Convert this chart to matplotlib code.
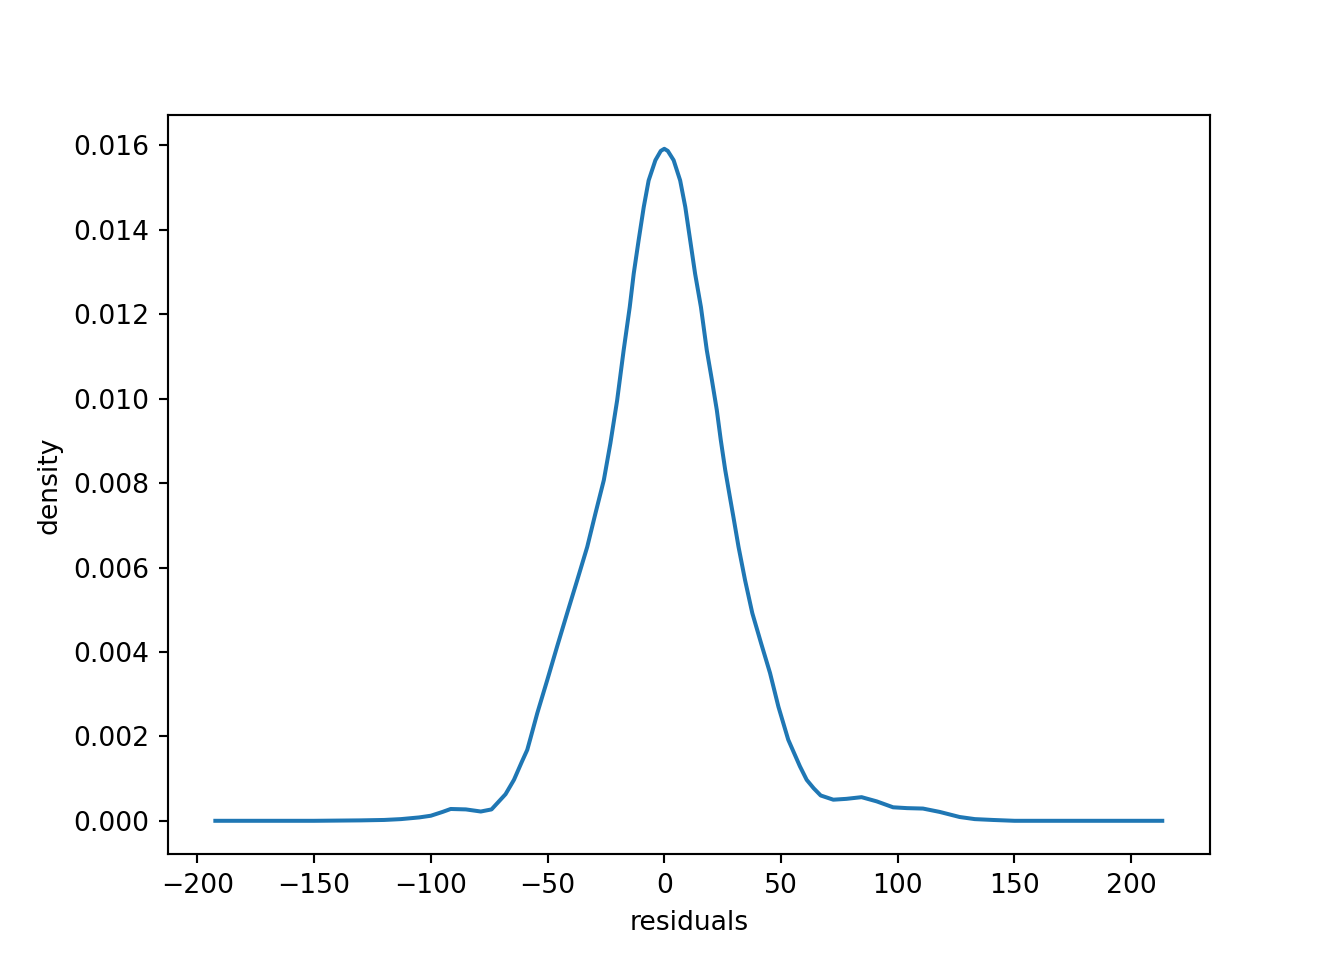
import matplotlib
matplotlib.use("Agg")
import matplotlib.pyplot as plt

# density curve of the residuals
residuals = [-192.3, -170, -150, -130, -120, -112.8, -105, -100, -95, -91.5,
             -85, -78.6, -74, -71.5, -68, -64.4, -61, -58.7, -57.3, -54.4,
             -50.1, -45.9, -41.6, -37.3, -33, -29.5, -25.9, -23.1, -20.2, -17.4,
             -14.8, -13.1, -11, -8.8, -6.7, -3.8, -1.5, 0, 1.5, 4,
             6.8, 9, 11.1, 13.2, 15.7, 18.2, 20.4, 22.5, 24.2, 26.1,
             28.2, 29.6, 31.8, 34.6, 37.7, 41.5, 45.3, 48.9, 53.1, 58.1,
             61, 64, 67, 72.4, 78, 84.5, 91, 98, 104, 110.8,
             118, 126.5, 133, 140.7, 150, 170, 190, 213.3]
density = [0.0, 0.0, 0.0, 0.00001, 0.00002, 0.00004, 0.00008, 0.00012, 0.00021, 0.00028,
           0.00027, 0.00022, 0.00027, 0.00042, 0.00063, 0.00097, 0.0014, 0.00168, 0.00196, 0.00255,
           0.00334, 0.00413, 0.00492, 0.0057, 0.00649, 0.00728, 0.00807, 0.00894, 0.00996, 0.01115,
           0.01217, 0.01296, 0.01375, 0.01454, 0.01517, 0.01565, 0.01587, 0.01592, 0.01587, 0.01565,
           0.01517, 0.01454, 0.01375, 0.01296, 0.01217, 0.01115, 0.01044, 0.00973, 0.00902, 0.00831,
           0.00764, 0.0072, 0.00649, 0.0057, 0.00492, 0.0042, 0.0035, 0.0027, 0.00192, 0.00129,
           0.00097, 0.00077, 0.0006, 0.0005, 0.00052, 0.00056, 0.00046, 0.00032, 0.0003, 0.00029,
           0.00021, 0.00009, 0.00004, 0.00002, 0.0, 0.0, 0.0, 0.0]

fig, ax = plt.subplots(figsize=(7, 5), dpi=192)
ax.plot(residuals, density, color="#1f77b4", linewidth=1.5)
ax.set_xlabel("residuals")
ax.set_ylabel("density")
ax.set_xticks([-200, -150, -100, -50, 0, 50, 100, 150, 200])
ax.set_yticks([0.0, 0.002, 0.004, 0.006, 0.008, 0.010, 0.012, 0.014, 0.016])
ax.yaxis.set_major_formatter(matplotlib.ticker.FormatStrFormatter("%.3f"))

fig.savefig("out.png")
